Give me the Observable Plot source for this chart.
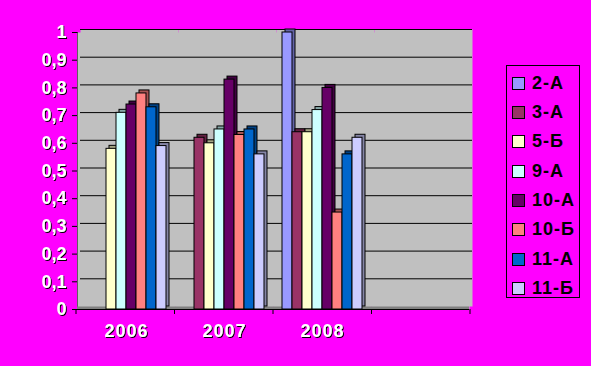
<!DOCTYPE html>
<html><head><meta charset="utf-8">
<script src="https://cdn.jsdelivr.net/npm/d3@7"></script>
<script src="https://cdn.jsdelivr.net/npm/@observablehq/plot@0.6"></script>
<style>
html,body{margin:0;padding:0;background:#FF00FF;width:591px;height:366px;overflow:hidden;}
#wrap{position:relative;width:591px;height:366px;}
#chart svg{display:block;}
svg [aria-label^="y-axis"] text, svg [aria-label^="fx-axis"] text{fill:#fff;filter:url(#sh);}
svg [aria-label^="fx-axis"] text{letter-spacing:1px;}
#legend{position:absolute;left:506px;top:65px;width:72px;height:231px;border:1px solid #000;font:bold 18px "Liberation Sans",Arial,sans-serif;letter-spacing:1px;color:#000;}
.item{position:absolute;left:5px;height:20px;display:flex;align-items:center;white-space:nowrap;}
.sw{width:11px;height:11px;border:1px solid #000;margin-right:7px;flex:none;}
</style></head>
<body>
<svg width="0" height="0" style="position:absolute"><defs><filter id="sh" x="-30%" y="-30%" width="160%" height="160%"><feDropShadow dx="1" dy="1" stdDeviation="0" flood-color="#000" flood-opacity="1"/></filter></defs></svg>
<div id="wrap"><div id="chart"></div><div id="legend"></div></div>
<script>
const years = ["2006", "2007", "2008", ""];
const series = ["2-А", "3-А", "5-Б", "9-А", "10-А", "10-Б", "11-А", "11-Б"];
const s2A  = [null, null, 1.00, null];
const s3A  = [null, 0.62, 0.64, null];
const s5B  = [0.58, 0.60, 0.64, null];
const s9A  = [0.71, 0.65, 0.72, null];
const s10A = [0.74, 0.83, 0.80, null];
const s10B = [0.78, 0.63, 0.35, null];
const s11A = [0.73, 0.65, 0.56, null];
const s11B = [0.59, 0.56, 0.62, null];
const yTicks = [0, 0.1, 0.2, 0.3, 0.4, 0.5, 0.6, 0.7, 0.8, 0.9, 1];
const colors = ["#9999FF", "#993366", "#FFFFCC", "#CCFFFF", "#660066", "#FF8080", "#0066CC", "#CCCCFF"];

const values = [s2A, s3A, s5B, s9A, s10A, s10B, s11A, s11B];
const rows = [];
years.forEach((year, i) => series.forEach((s, j) => rows.push({year, series: s, value: values[j][i]})));

const chart = Plot.plot({
  width: 591, height: 366,
  marginLeft: 76, marginRight: 121, marginTop: 32, marginBottom: 57,
  style: {background: "transparent", color: "#000", fontFamily: '"Liberation Sans", Arial, sans-serif', fontSize: "18px", fontWeight: "bold", overflow: "visible"},
  facet: {data: rows, x: "year"},
  fx: {domain: years, paddingInner: 0, paddingOuter: 0, axis: "bottom", label: null, tickSize: 0, tickPadding: 15},
  x: {domain: series, paddingInner: 0, paddingOuter: 0.78, axis: null},
  y: {domain: [0, 1], ticks: yTicks, tickFormat: d => String(d).replace(".", ","), tickSize: 5, tickPadding: 6, label: null, line: true},
  color: {domain: series, range: colors},
  marks: [
    Plot.frame({fill: "#c0c0c0", stroke: "none"}),
    Plot.frame({fill: "#c0c0c0", stroke: "none", dx: 3, dy: -3}),
    Plot.ruleY([0], {stroke: "#808080", strokeWidth: 3, dy: -1.5}),
    Plot.ruleY(yTicks.slice(1), {stroke: "#000", dx: 3, dy: -3}),
    Plot.barY(rows, {x: "series", y1: 0, y2: "value", fill: "series", stroke: "#000", dx: 3, dy: -3}),
    Plot.barY(rows, {x: "series", y1: 0, y2: "value", fill: "#000", fillOpacity: 0.35, dx: 3, dy: -3}),
    Plot.barY(rows, {x: "series", y1: 0, y2: "value", fill: "series", stroke: "#000"}),
    Plot.ruleY([0], {stroke: "#000"})
  ]
});
document.getElementById("chart").appendChild(chart);

// category boundary tick marks on the x axis
const fxs = chart.scale("fx");
const ys = chart.scale("y");
const band = d3.scaleBand(fxs.domain, fxs.range).paddingInner(0).paddingOuter(0);
const edges = fxs.domain.map(d => band(d)).concat([band(fxs.domain[fxs.domain.length - 1]) + band.bandwidth()]);
const y0 = ys.range[0];
d3.select(chart).append("g").attr("stroke", "#000")
  .selectAll("line").data(edges).join("line")
  .attr("x1", d => d).attr("x2", d => d).attr("y1", y0).attr("y2", y0 + 5);

// legend
const legend = document.getElementById("legend");
series.forEach((s, i) => {
  const it = document.createElement("div");
  it.className = "item";
  it.style.top = (7.3 + 29.33 * i) + "px";
  const sw = document.createElement("div");
  sw.className = "sw";
  sw.style.background = colors[i];
  const tx = document.createElement("span");
  tx.textContent = s;
  it.appendChild(sw); it.appendChild(tx);
  legend.appendChild(it);
});
</script>
</body></html>
